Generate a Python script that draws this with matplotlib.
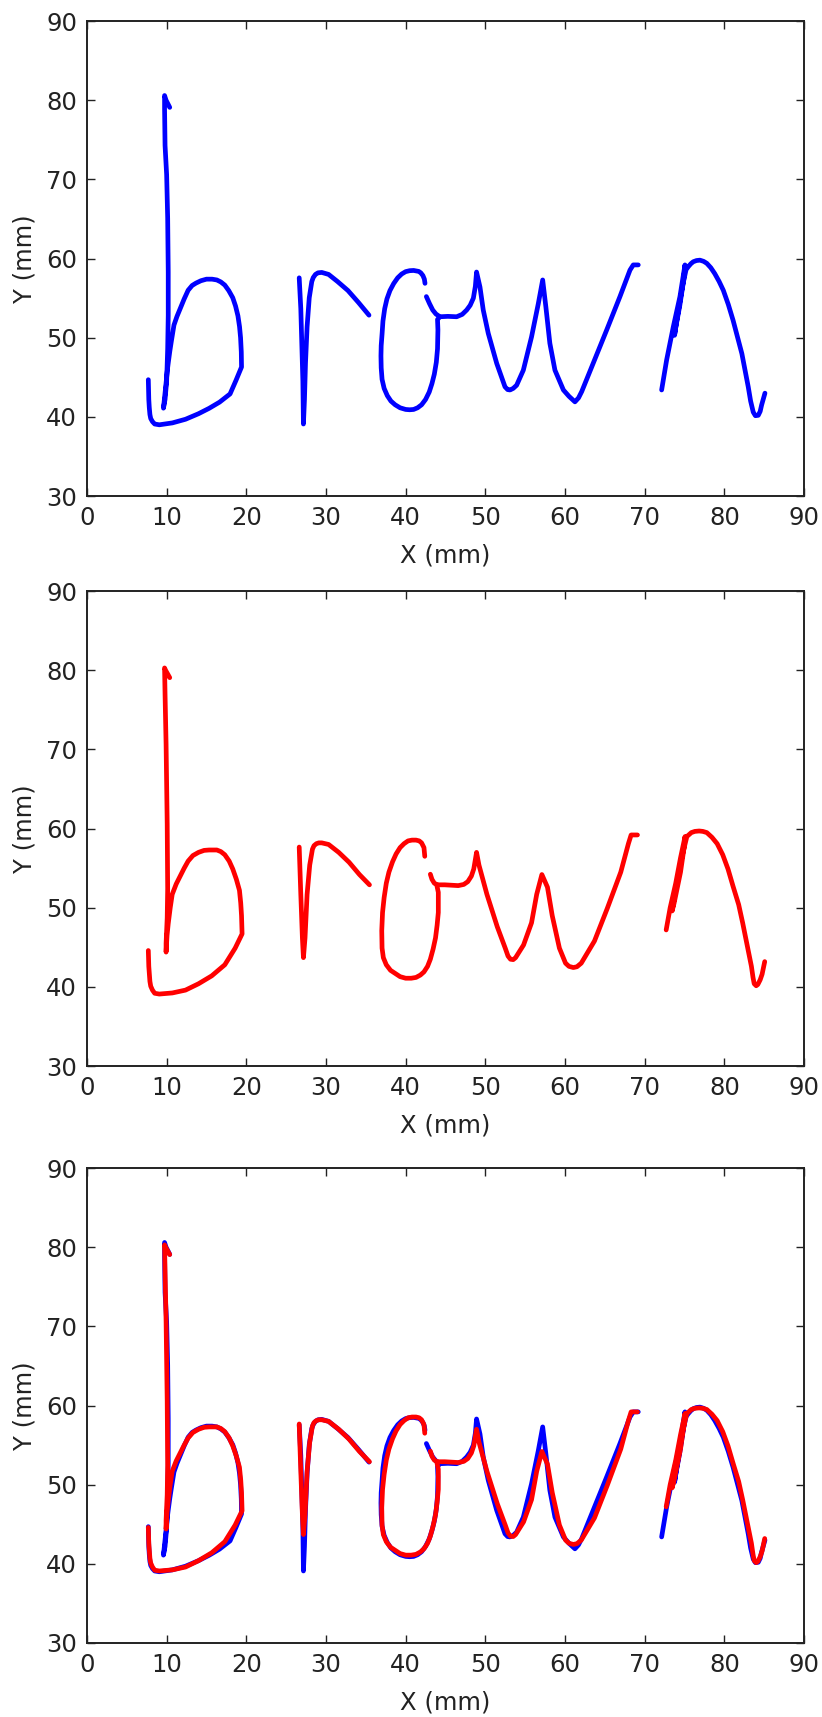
import matplotlib
matplotlib.use('Agg')
import matplotlib.pyplot as plt

# Recorded pen strokes for the word "brown" (mm). Blue = reference, red = reproduced.
blue_b_x = [10.39, 9.93, 9.74, 9.74, 9.8, 10.0, 10.13, 10.2, 10.2, 10.13, 10.0, 9.8, 9.6,
            9.85, 10.1, 10.2, 10.4, 10.59, 10.92, 11.3, 11.71, 12.2, 12.7, 13.2, 13.68,
            14.3, 15.0, 15.7, 16.3, 16.8, 17.3, 17.8, 18.3, 18.65, 18.95, 19.15, 19.28,
            19.37, 19.4, 18.7, 17.96, 16.64, 15.33, 14.0, 12.37, 10.72, 9.08, 8.5, 8.22,
            8.0, 7.9, 7.82, 7.76, 7.7]
blue_b_y = [79.1, 80.0, 80.6, 78.9, 74.3, 70.6, 65.1, 58.3, 52.8, 48.6, 44.5, 42.2, 41.1,
            43.5, 46.0, 46.8, 48.3, 49.55, 51.6, 52.7, 53.7, 54.9, 56.0, 56.6, 56.9,
            57.2, 57.4, 57.4, 57.3, 57.05, 56.65, 55.95, 55.05, 54.0, 52.76, 51.4, 50.0,
            48.2, 46.3, 44.6, 42.9, 41.86, 41.08, 40.4, 39.7, 39.24, 39.0, 39.1, 39.4,
            39.8, 40.3, 41.2, 42.2, 44.7]

blue_r_x = [26.64, 26.84, 26.97, 27.1, 27.17, 27.3, 27.43, 27.63, 27.9, 28.22, 28.4, 28.68,
            29.0, 29.47, 30.33, 31.45, 32.76, 34.08, 35.4]
blue_r_y = [57.57, 53.67, 49.1, 44.5, 39.1, 42.2, 46.8, 51.4, 55.05, 57.1, 57.6, 58.0,
            58.2, 58.25, 58.0, 57.1, 55.96, 54.45, 52.85]

blue_ow_x = [42.43, 42.35, 42.17, 41.9, 41.64, 41.0, 40.5, 40.0, 39.5, 39.0, 38.5, 38.03,
             37.65, 37.37, 37.15, 37.04, 36.93, 36.9, 36.93, 37.04, 37.3, 37.7, 38.15,
             38.68, 39.3, 40.0, 40.5, 41.0, 41.5, 42.0, 42.5, 42.96, 43.3, 43.6, 43.85,
             44.0, 44.05, 44.0, 44.3, 45.3, 46.4, 47.1, 47.66, 48.1, 48.5, 48.75, 48.9,
             49.33, 49.74, 50.37, 51.43, 52.47, 52.8, 53.1, 53.5, 53.93, 54.77, 55.8,
             56.65, 57.2, 57.6, 58.1, 58.74, 59.8, 60.5, 61.25, 61.7, 62.1, 63.35, 65.23,
             66.9, 68.16, 68.57, 69.2]
blue_ow_y = [56.87, 57.4, 57.85, 58.2, 58.38, 58.5, 58.47, 58.35, 58.05, 57.57, 56.85, 55.96,
             54.9, 53.67, 52.1, 50.47, 49.0, 47.7, 46.2, 44.74, 43.6, 42.68, 42.0,
             41.53, 41.15, 40.94, 40.9, 40.94, 41.15, 41.53, 42.2, 43.14, 44.2, 45.4, 46.9,
             48.6, 51.0, 52.3, 52.65, 52.7, 52.65, 52.95, 53.5, 54.1, 55.0, 56.5, 58.3,
             56.4, 53.5, 50.55, 46.76, 43.8, 43.45, 43.4, 43.6, 44.0, 45.9, 50.1,
             54.3, 57.3, 53.9, 49.3, 45.9, 43.4, 42.6, 41.9, 42.4, 43.2, 46.3, 50.97,
             55.2, 58.55, 59.2, 59.2]

blue_stub_x = [42.6, 43.0, 43.4, 43.8, 44.3]
blue_stub_y = [55.2, 54.3, 53.5, 53.0, 52.65]

blue_n_x = [72.13, 72.76, 73.6, 74.43, 75.06, 74.9, 74.4, 73.9, 73.75, 74.1, 74.75, 75.2,
            75.47, 75.8, 76.1, 76.5, 76.94, 77.4, 77.8, 78.3, 78.8, 79.35, 79.87, 80.5,
            81.1, 81.65, 82.2, 82.6, 83.0, 83.3, 83.63, 83.9, 84.26, 84.5, 84.68, 85.1]
blue_n_y = [43.4, 47.2, 51.4, 55.2, 59.2, 57.3, 54.0, 51.3, 50.3, 52.6, 56.5, 58.6,
            58.97, 59.35, 59.6, 59.75, 59.8, 59.65, 59.4, 58.85, 58.1, 57.1, 56.0, 54.2,
            52.2, 50.1, 48.0, 45.9, 43.8, 42.0, 40.6, 40.15, 40.2, 40.7, 41.5, 43.0]

red_b_x = [10.39, 9.87, 9.74, 9.8, 9.93, 10.07, 10.13, 10.07, 9.93, 9.93,
           10.05, 10.2, 10.45, 10.7, 11.2, 11.7, 12.2, 12.7, 13.3, 14.0, 14.7, 15.33,
           16.3, 16.8, 17.3, 17.85, 18.3, 18.75, 19.14, 19.3, 19.4, 19.47, 18.6, 17.3,
           15.66, 14.0, 12.37, 10.72, 9.08, 8.5, 8.22, 8.0, 7.9, 7.76, 7.7]
red_b_y = [79.07, 80.0, 80.3, 77.0, 70.66, 60.6, 52.4, 48.7, 45.5, 44.4,
           46.5, 48.0, 50.0, 51.7, 53.0, 54.0, 55.0, 55.9, 56.6, 57.0, 57.25, 57.3,
           57.3, 57.1, 56.7, 55.9, 54.9, 53.6, 52.2, 50.6, 49.0, 46.7, 44.9, 42.8,
           41.4, 40.4, 39.6, 39.24, 39.1, 39.2, 39.6, 40.1, 40.7, 42.6, 44.6]

red_r_x = [26.64, 26.84, 27.04, 27.17, 27.37, 27.63, 27.96, 28.3, 28.5, 28.8, 29.1, 29.47,
           30.33, 31.6, 32.9, 34.2, 35.46]
red_r_y = [57.67, 51.7, 46.2, 43.7, 46.2, 51.7, 55.4, 57.4, 57.85, 58.1, 58.2, 58.2,
           58.0, 57.0, 55.75, 54.2, 52.9]

red_ow_x = [42.4, 42.3, 42.0, 41.7, 41.3, 40.8, 40.3, 39.8, 39.3, 38.8, 38.35, 37.9, 37.57,
            37.3, 37.1, 37.0, 37.04, 37.2, 37.57, 38.1, 38.7, 39.3, 40.0, 40.7, 41.3,
            41.85, 42.3, 42.75, 43.1, 43.45, 43.75, 43.95, 44.1, 44.1, 43.9, 44.9, 46.6,
            47.3, 47.8, 48.25, 48.55, 48.9, 49.2, 50.2, 51.5, 52.5, 52.85, 53.16, 53.5,
            53.8, 54.8, 55.8, 56.45, 57.1, 57.8, 58.4, 59.3, 60.07, 60.5, 61.05, 61.5,
            62.04, 63.7, 65.3, 67.0, 67.96, 68.3, 69.1]
red_ow_y = [56.5, 57.6, 58.2, 58.45, 58.55, 58.55, 58.45, 58.1, 57.6, 56.8, 55.8, 54.5, 53.1,
            51.3, 49.4, 47.1, 44.9, 43.7, 42.8, 42.1, 41.7, 41.3, 41.1, 41.1, 41.2,
            41.5, 41.9, 42.6, 43.5, 44.8, 46.2, 47.8, 49.4, 51.95, 52.9, 52.9, 52.8,
            52.95, 53.3, 54.0, 54.9, 57.0, 55.4, 51.7, 47.6, 44.9, 43.9, 43.5, 43.45,
            43.7, 45.3, 48.1, 51.7, 54.2, 52.6, 49.0, 44.9, 43.0, 42.6, 42.45, 42.55,
            43.0, 45.8, 49.9, 54.5, 58.1, 59.2, 59.2]

red_stub_x = [43.1, 43.3, 43.6, 44.0]
red_stub_y = [54.24, 53.6, 53.1, 52.9]

red_n_x = [72.7, 73.2, 73.9, 74.5, 75.07, 74.95, 74.5, 73.7, 73.45, 73.9, 74.7, 75.3,
           75.86, 76.3, 76.84, 77.3, 77.8, 78.45, 79.1, 79.8, 80.46, 81.1, 81.8, 82.3,
           82.76, 83.1, 83.4, 83.6, 83.75, 84.0, 84.2, 84.5, 84.74, 85.07]
red_n_y = [47.2, 50.0, 53.1, 56.3, 59.0, 57.6, 54.5, 50.6, 49.6, 52.3, 56.5, 59.0,
           59.5, 59.65, 59.7, 59.65, 59.5, 58.9, 58.1, 56.7, 54.9, 52.7, 50.4, 48.1,
           45.8, 44.1, 42.6, 41.2, 40.4, 40.15, 40.3, 40.9, 41.6, 43.2]

blue_strokes = [(blue_b_x, blue_b_y), (blue_r_x, blue_r_y), (blue_ow_x, blue_ow_y),
                (blue_stub_x, blue_stub_y), (blue_n_x, blue_n_y)]
red_strokes = [(red_b_x, red_b_y), (red_r_x, red_r_y), (red_ow_x, red_ow_y),
               (red_stub_x, red_stub_y), (red_n_x, red_n_y)]

x_ticks = list(range(0, 91, 10))
y_ticks = list(range(30, 91, 10))


def draw_strokes(ax, strokes, color):
    for xs, ys in strokes:
        ax.plot(xs, ys, color=color, lw=3.4, solid_capstyle='round', solid_joinstyle='round')


def style_axes(ax):
    ax.set_xlim(0, 90)
    ax.set_ylim(30, 90)
    ax.set_xticks(x_ticks)
    ax.set_yticks(y_ticks)
    ax.tick_params(direction='in', top=True, right=True, length=6, width=1,
                   labelsize=17.5, pad=7, colors='#222222')
    for sp in ax.spines.values():
        sp.set_linewidth(1.4)
        sp.set_color('#222222')
    ax.set_xlabel('X (mm)', fontsize=17.5, color='#222222', labelpad=10)
    ax.set_ylabel('Y (mm)', fontsize=17.5, color='#222222', labelpad=7)


fig = plt.figure(figsize=(8.22, 17.17), dpi=100)
left, width, height = 0.1058, 0.8723, 0.2766
bottoms = [0.7111, 0.3791, 0.0431]

ax1 = fig.add_axes([left, bottoms[0], width, height])
draw_strokes(ax1, blue_strokes, '#0000ff')
style_axes(ax1)

ax2 = fig.add_axes([left, bottoms[1], width, height])
draw_strokes(ax2, red_strokes, '#ff0000')
style_axes(ax2)

ax3 = fig.add_axes([left, bottoms[2], width, height])
draw_strokes(ax3, blue_strokes, '#0000ff')
draw_strokes(ax3, red_strokes, '#ff0000')
style_axes(ax3)

fig.savefig('out.png', dpi=100, facecolor='white')
